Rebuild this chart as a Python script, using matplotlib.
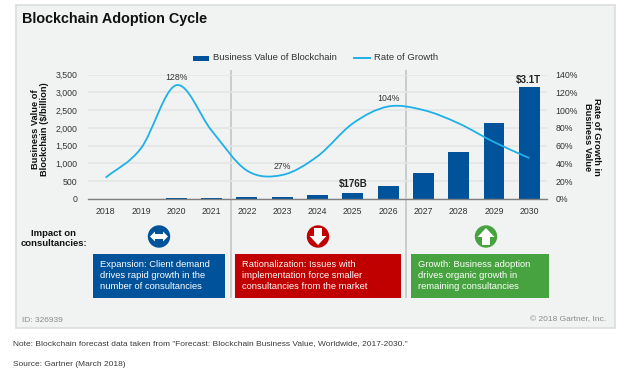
import numpy as np
import matplotlib
matplotlib.use("Agg")
import matplotlib.pyplot as plt
from matplotlib.patches import Rectangle, Circle, Polygon, PathPatch
from matplotlib.path import Path

plt.rcParams['font.family'] = ['Liberation Sans', 'DejaVu Sans']

years = ['2018', '2019', '2020', '2021', '2022', '2023', '2024',
         '2025', '2026', '2027', '2028', '2029', '2030']
business_value = [3, 6, 25, 40, 50, 60, 100, 176, 365, 720, 1310, 2150, 3150]
growth_rate = [24, 57, 128, 77, 32, 27, 48, 85, 104, 100, 85, 64, 46]
left_ticks = [0, 500, 1000, 1500, 2000, 2500, 3000, 3500]
right_ticks = [0, 20, 40, 60, 80, 100, 120, 140]

W, H = 624, 373
BLUE, RED, GREEN, CYAN = '#00529B', '#C00000', '#47A33F', '#1FB0E8'
TXT = '#333333'

fig = plt.figure(figsize=(W / 100, H / 100), dpi=100, facecolor='white')

# pixel-coordinate layer for panel, notes and callouts
ov = fig.add_axes([0, 0, 1, 1], zorder=0)
ov.set_xlim(0, W)
ov.set_ylim(H, 0)
ov.axis('off')
ov.add_patch(Rectangle((15.5, 4.5), 599.5, 323.5, fc='#F1F3F3', ec='#DCDEDE', lw=1.2))
for x in (230.5, 406):
    ov.plot([x, x], [70, 298], color='#C8CACA', lw=1.3, solid_capstyle='butt')

ov.text(22, 19, 'Blockchain Adoption Cycle', fontsize=10.4, fontweight='bold',
        color='#111111', va='center')

# legend
ov.add_patch(Rectangle((193, 55.5), 16, 5.5, fc=BLUE, ec='none'))
ov.text(213, 58, 'Business Value of Blockchain', fontsize=6.8, color=TXT, va='center')
ov.plot([354, 370], [58, 58], color=CYAN, lw=1.4)
ov.text(374, 58, 'Rate of Growth', fontsize=6.8, color=TXT, va='center')

# impact row
ov.text(53.5, 238.5, 'Impact on\nconsultancies:', fontsize=6.8, fontweight='bold', color='#111111',
        ha='center', va='center', linespacing=1.1)

boxes = [
    (93, 225, BLUE, 'Expansion: Client demand\ndrives rapid growth in the\nnumber of consultancies', 100.5),
    (235, 401, RED, 'Rationalization: Issues with\nimplementation force smaller\nconsultancies from the market', 242.5),
    (411, 548.5, GREEN, 'Growth: Business adoption\ndrives organic growth in\nremaining consultancies', 418),
]
for x0, x1, col, label, tx in boxes:
    ov.add_patch(Rectangle((x0, 254), x1 - x0, 44, fc=col, ec='none'))
    ov.text(tx, 275.5, label, fontsize=6.75, color='white', va='center', linespacing=1.33)

# icons
ov.add_patch(Circle((159, 236.5), 11.2, fc=BLUE, ec='none'))
ov.add_patch(Polygon([(150, 236.5), (155, 231.5), (155, 234), (163, 234), (163, 231.5), (168, 236.5),
                      (163, 241.5), (163, 239), (155, 239), (155, 241.5)], fc='white', ec='none'))
ov.add_patch(Circle((318, 236.5), 11.2, fc=RED, ec='none'))
ov.add_patch(Polygon([(314, 228), (322, 228), (322, 236), (326.5, 236), (318, 245), (309.5, 236), (314, 236)],
                     fc='white', ec='none'))
ov.add_patch(Circle((486, 236.5), 11.2, fc=GREEN, ec='none'))
ov.add_patch(Polygon([(482, 245), (490, 245), (490, 237), (494.5, 237), (486, 228), (477.5, 237), (482, 237)],
                     fc='white', ec='none'))

ov.text(22, 320, 'ID: 326939', fontsize=6, color='#8A8A8A', va='center')
ov.text(606, 320, '\u00a9 2018 Gartner, Inc.', fontsize=6, color='#8A8A8A', va='center', ha='right')
ov.text(13, 344, 'Note: Blockchain forecast data taken from "Forecast: Blockchain Business Value, Worldwide, 2017-2030."',
        fontsize=6.03, color='#3A3A3A', va='center')
ov.text(13, 365, 'Source: Gartner (March 2018)', fontsize=6.03, color='#3A3A3A', va='center')

# chart axes: x 88..547, y 74.5..199 px
ax = fig.add_axes([88 / W, 1 - 199 / H, (547 - 88) / W, (199 - 74.5) / H], zorder=1)
ax.patch.set_visible(False)
x = np.arange(len(years))
ax.bar(x, business_value, width=0.59, color=BLUE, zorder=2)
ax.set_xlim(-0.5, 12.5)
ax.set_ylim(0, 3500)
ax.set_xticks(x, years)
ax.set_yticks(left_ticks, [f'{v:,}' for v in left_ticks])
ax.grid(axis='y', color='#E4E6E6', lw=1.2, zorder=0)
ax.set_axisbelow(True)
ax.tick_params(length=0, labelsize=6.3, labelcolor=TXT)
ax.tick_params(axis='x', pad=5.5)
ax.tick_params(axis='y', pad=7.5)
for s in ('top', 'left', 'right'):
    ax.spines[s].set_visible(False)
ax.spines['bottom'].set_color('#808080')
ax.spines['bottom'].set_linewidth(1)
ax.set_ylabel('Business Value of\nBlockchain ($/billion)', fontsize=6.7, fontweight='bold',
              color='#111111', linespacing=1.1, va='center')
ax.yaxis.set_label_coords((40 - 88) / (547 - 88), 0.5 + 8 / 124.5)

ax2 = ax.twinx()
ax2.set_ylim(0, 140)
ax2.set_yticks(right_ticks, [f'{v}%' for v in right_ticks])
ax2.tick_params(length=0, labelsize=6.3, labelcolor=TXT, pad=6)
for s in ax2.spines.values():
    s.set_visible(False)
ax2.set_ylabel('Rate of Growth in\nBusiness Value', fontsize=6.7, fontweight='bold', color='#111111',
               rotation=270, va='center', linespacing=1.1)
ax2.yaxis.set_label_coords((592 - 88) / (547 - 88), 0.5)

# smoothed line through the yearly values (Catmull-Rom Bezier segments)
g = np.asarray(growth_rate, float)
tang = np.gradient(g)
verts = [(x[0], g[0])]
codes = [Path.MOVETO]
for i in range(len(g) - 1):
    verts += [(x[i] + 1 / 3, g[i] + tang[i] / 3), (x[i + 1] - 1 / 3, g[i + 1] - tang[i + 1] / 3), (x[i + 1], g[i + 1])]
    codes += [Path.CURVE4] * 3
ax2.add_patch(PathPatch(Path(verts, codes), fc='none', ec=CYAN, lw=1.3, zorder=3))

ax2.annotate('128%', (2, 128), xytext=(0, 4), textcoords='offset points', ha='center', fontsize=6.3, color=TXT)
ax2.annotate('27%', (5, 27), xytext=(0, 4.5), textcoords='offset points', ha='center', fontsize=6.3, color=TXT)
ax2.annotate('104%', (8, 104), xytext=(0, 4), textcoords='offset points', ha='center', fontsize=6.3, color=TXT)
ax.annotate('$176B', (7, 176), xytext=(0, 4), textcoords='offset points', ha='center',
            fontsize=7, fontweight='bold', color='#222222', parse_math=False)
ax.annotate('$3.1T', (12, 3150), xytext=(-1, 3), textcoords='offset points', ha='center',
            fontsize=7, fontweight='bold', color='#222222', parse_math=False)

fig.savefig('out.png', dpi=100, facecolor='white')
